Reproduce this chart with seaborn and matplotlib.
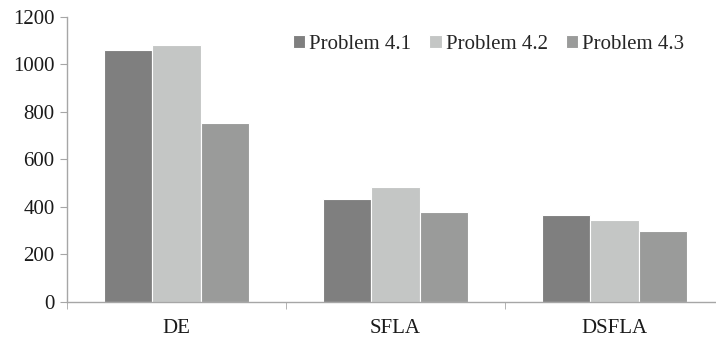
import numpy as np
import pandas as pd
import matplotlib.pyplot as plt
import seaborn as sns
from matplotlib.ticker import FixedLocator

# Chart data
algorithms = ["DE", "SFLA", "DSFLA"]
problems = ["Problem 4.1", "Problem 4.2", "Problem 4.3"]
p41 = [1062, 435, 367]
p42 = [1083, 483, 345]
p43 = [753, 379, 300]
colors = ["#7f7f7f", "#c4c6c5", "#9a9b9a"]

df = pd.DataFrame({
    "algorithm": algorithms * 3,
    "problem": [problems[0]] * 3 + [problems[1]] * 3 + [problems[2]] * 3,
    "value": p41 + p42 + p43,
})

sns.set_style("white")
plt.rcParams["font.family"] = ["Liberation Serif", "DejaVu Serif"]

fig = plt.figure(figsize=(7.16, 3.37), dpi=100)
ax = fig.add_axes([0.0936, 0.104, 0.9064, 0.846])

sns.barplot(data=df, x="algorithm", y="value", hue="problem",
            order=algorithms, hue_order=problems, palette=colors,
            width=0.66, gap=0, edgecolor="white", linewidth=0.8,
            saturation=1, ax=ax)

ax.set_xlim(-0.5, 2.463)
ax.set_ylim(0, 1200)
ax.set_yticks(np.arange(0, 1201, 200))
ax.set_xlabel("")
ax.set_ylabel("")

for s in ["top", "right"]:
    ax.spines[s].set_visible(False)
for s in ["left", "bottom"]:
    ax.spines[s].set_color("#a6a6a6")
    ax.spines[s].set_linewidth(1.0)

ax.tick_params(axis="y", direction="out", length=5, color="#a6a6a6",
               labelsize=15, labelcolor="#1a1a1a", pad=4, left=True)
ax.tick_params(axis="x", which="major", length=0, labelsize=15,
               labelcolor="#1a1a1a", pad=12)
ax.xaxis.set_minor_locator(FixedLocator([-0.5, 0.5, 1.5]))
ax.tick_params(axis="x", which="minor", direction="out", length=5,
               color="#a6a6a6", bottom=True)

ax.legend(loc="upper left", bbox_to_anchor=(0.335, 0.965), ncol=3,
          frameon=False, fontsize=15, handlelength=0.6, handleheight=0.6,
          handletextpad=0.2, columnspacing=0.85, borderaxespad=0)

fig.savefig("out.png", dpi=100)
